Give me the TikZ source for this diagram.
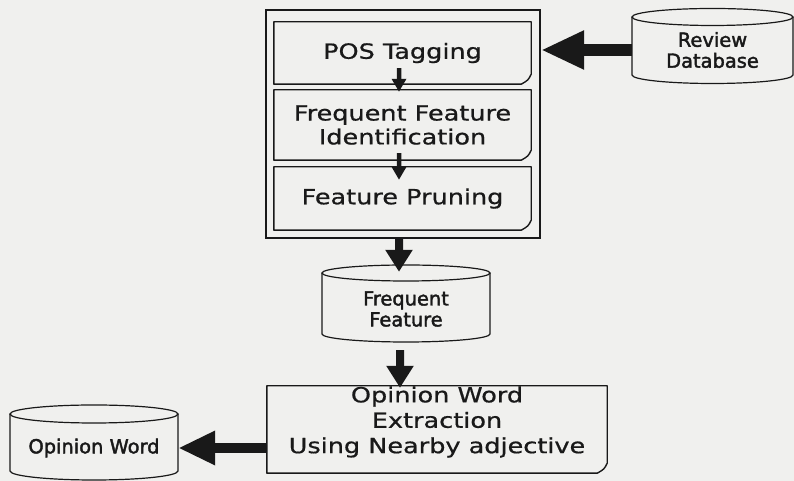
\documentclass[tikz,border=0pt]{standalone}
\usepackage{fontspec}
\setmainfont{DejaVu Sans}
\newfontfamily\bigfont[FakeStretch=1.22,FakeBold=0.7]{DejaVu Sans}
\newfontfamily\smallfont[FakeBold=2]{DejaVu Sans}
\usetikzlibrary{arrows.meta,calc}
\definecolor{bgc}{RGB}{240,240,238}
\definecolor{ink}{RGB}{25,25,25}
\newcommand\dbcyl[5]{%
  \fill[bgc] ({#1-#4},#2) -- ({#1-#4},#3) arc[start angle=180,end angle=360,x radius=#4,y radius=#5] -- ({#1+#4},#2) arc[start angle=0,end angle=180,x radius=#4,y radius=#5] -- cycle;
  \draw[cylline] ({#1-#4},#2) -- ({#1-#4},#3) arc[start angle=180,end angle=360,x radius=#4,y radius=#5] -- ({#1+#4},#2);
  \draw[cylline] (#1,#2) ellipse[x radius=#4, y radius=#5];}
\newcommand\curlbox[1]{%
  \draw[boxline] (#1.north west) -- (#1.north east) -- ([yshift=10bp]#1.south east)
    .. controls ([xshift=-3bp,yshift=4bp]#1.south east) .. ([xshift=-10bp]#1.south east)
    -- (#1.south west) -- cycle;}
\begin{document}
\begin{tikzpicture}[x=1bp,y=1bp,
  boxline/.style={draw=ink,line width=1.4bp,line join=round},
  cylline/.style={draw=ink,line width=1.2bp},
  stagebox/.style={minimum width=257bp,inner sep=0pt,align=center,
    font={\bigfont\fontsize{21}{24}\selectfont},text=ink},
  bigtext/.style={inner sep=0pt,align=center,
    font={\bigfont\fontsize{21}{25.5}\selectfont},text=ink},
  dbtext/.style={inner sep=0pt,align=center,
    font={\smallfont\fontsize{19.5}{21}\selectfont},text=ink},
  fatarrow/.style={draw=ink,line width=12bp,-{Triangle[width=36bp,length=43bp]}},
  fatarrowb/.style={draw=ink,line width=10bp,-{Triangle[width=32bp,length=37bp]}},
  downarrow/.style={draw=ink,line width=8bp,-{Triangle[width=26bp,length=22bp]}},
  smallarrow/.style={draw=ink,line width=4.5bp,-{Triangle[width=14bp,length=13bp]}}]
\fill[bgc] (0,0) rectangle (794,481);
\path[use as bounding box] (0,0) rectangle (794,481);

% process group
\node[draw=ink,line width=2bp,minimum width=274bp,minimum height=228bp,inner sep=0pt] (outer) at (403,357) {};
\node[stagebox,minimum height=62bp] (pos) at (402.5,428) {POS Tagging};
\curlbox{pos}
\node[stagebox,minimum height=70bp] (ffi) at (402.5,356) {Frequent Feature\\Identification};
\curlbox{ffi}
\node[stagebox,minimum height=63bp] (fp) at (402.5,282.5) {Feature Pruning};
\curlbox{fp}

% databases
\dbcyl{712.5}{464}{406}{80.5}{8.5}
\node[dbtext,minimum width=161bp] (rdb) at (712.5,431) {Review\\Database};
\dbcyl{406}{208}{147}{84}{8}
\node[dbtext,minimum width=168bp,minimum height=74bp] (ffc) at (406,172) {Frequent\\Feature};
\dbcyl{94}{67}{10}{84}{9}
\node[dbtext,minimum width=168bp] (ocyl) at (94,33) {Opinion Word};

% opinion extraction box
\node[minimum width=340bp,minimum height=87bp,inner sep=0pt] (ow) at (437,51.5) {};
\curlbox{ow}
\node[bigtext] (owt) at (437,59) {Opinion Word\\Extraction\\Using Nearby adjective};

% connectors
\draw[smallarrow] ([xshift=-3.5bp,yshift=16bp]pos.south) -- ($(pos.south |- ffi.north)+(-3.5,-2)$);
\draw[smallarrow] ([xshift=-3.5bp,yshift=7bp]ffi.south) -- ($(ffi.south |- fp.north)+(-3.5,-13)$);
\draw[fatarrow] (rdb.west) -- (rdb.west -| outer.east);
\draw[downarrow] ([xshift=-4bp]outer.south) -- ([xshift=-7bp]ffc.north);
\draw[downarrow] ([xshift=-6bp,yshift=-4bp]ffc.south) -- ($(ffc.south |- ow.north)+(-6,-2)$);
\draw[fatarrowb] (ocyl.east -| ow.west) -- (ocyl.east);
\end{tikzpicture}
\end{document}
